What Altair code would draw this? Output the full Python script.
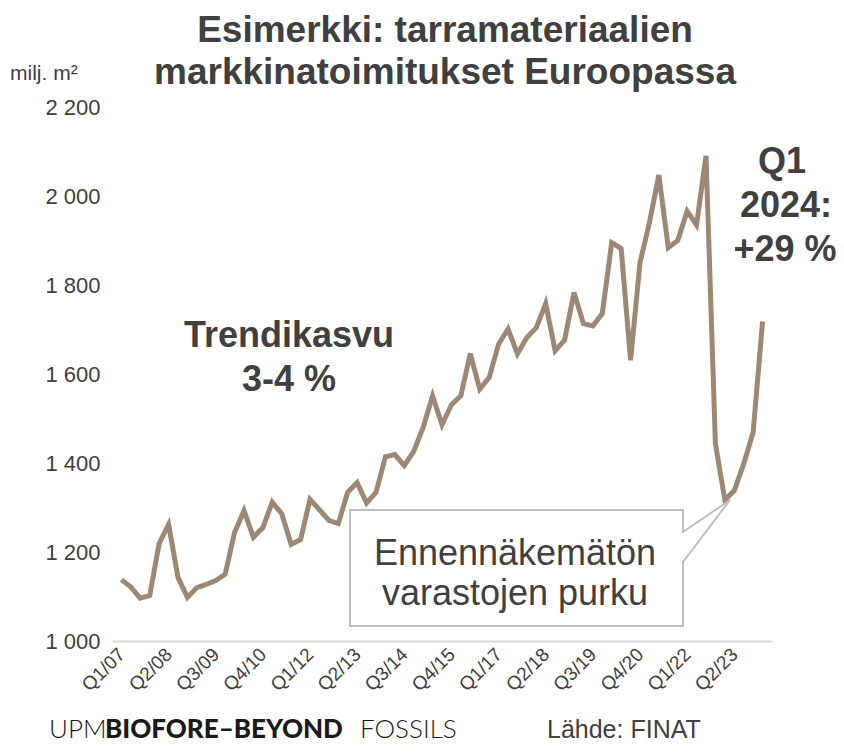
import altair as alt
import pandas as pd

# Quarterly market deliveries of label materials in Europe, million m2 (Q1/07 .. Q1/24)
years = list(range(2007, 2025))
quarters = [f"Q{q}/{str(y)[2:]}" for y in years for q in (1, 2, 3, 4)][:69]
values = [1138, 1121, 1096, 1102, 1219, 1262, 1143, 1098, 1120, 1127,
          1136, 1150, 1244, 1293, 1233, 1255, 1312, 1286, 1217, 1228,
          1318, 1295, 1271, 1264, 1334, 1356, 1310, 1334, 1414, 1419,
          1394, 1426, 1480, 1551, 1486, 1531, 1551, 1646, 1566, 1592,
          1667, 1701, 1645, 1682, 1704, 1758, 1652, 1676, 1783, 1713,
          1708, 1736, 1895, 1882, 1631, 1850, 1940, 2047, 1884, 1900,
          1966, 1935, 2090, 1443, 1317, 1338, 1398, 1469, 1718]
tick_labels = ["Q1/07", "Q2/08", "Q3/09", "Q4/10", "Q1/12", "Q2/13", "Q3/14",
               "Q4/15", "Q1/17", "Q2/18", "Q3/19", "Q4/20", "Q1/22", "Q2/23"]
y_ticks = [1000, 1200, 1400, 1600, 1800, 2000, 2200]

title_lines = ["Esimerkki: tarramateriaalien", "markkinatoimitukset Euroopassa"]
unit_label = "milj. m²"
trend_lines = ["Trendikasvu", "3-4 %"]
q1_lines = ["Q1", "2024:", "+29 %"]
callout_lines = ["Ennennäkemätön", "varastojen purku"]
source_text = "Lähde: FINAT"
logo_parts = ["UPM", "BIOFORE–BEYOND", "FOSSILS"]

df = pd.DataFrame({"q": quarters, "v": values})

TXT = "#404040"
FONT = "Liberation Sans"
W, H = 660, 534

line = alt.Chart(df).mark_line(color="#9c8875", strokeWidth=5).encode(
    x=alt.X("q:O", sort=None, title=None,
            scale=alt.Scale(type="point", padding=1.1),
            axis=alt.Axis(values=tick_labels, labelAngle=-45, labelAlign="right",
                          labelBaseline="middle", labelFontSize=19, labelColor=TXT,
                          labelFont=FONT, ticks=False, labelPadding=10,
                          domainColor="#d9d9d9", domainWidth=2, grid=False)),
    y=alt.Y("v:Q", title=None,
            scale=alt.Scale(domain=[1000, 2200], nice=False, zero=False),
            axis=alt.Axis(values=y_ticks, labelExpr="replace(format(datum.value, ','), ',', ' ')",
                          labelFontSize=22, labelColor=TXT, labelFont=FONT,
                          ticks=False, domain=False, grid=False, labelPadding=12)),
)


def txt(s, x, y, size, weight="normal", align="center", color=TXT, font=FONT):
    return alt.Chart(pd.DataFrame({"t": [s]})).mark_text(
        fontSize=size, fontWeight=weight, align=align, baseline="alphabetic",
        color=color, font=font
    ).encode(text="t:N", x=alt.value(x), y=alt.value(y))


one = pd.DataFrame({"a": [0]})
box = alt.Chart(one).mark_rect(fill="white", stroke="#bfbfbf", strokeWidth=2).encode(
    x=alt.value(238), x2=alt.value(571), y=alt.value(403), y2=alt.value(519))
gap = alt.Chart(one).mark_rule(stroke="white", strokeWidth=4).encode(
    x=alt.value(571), y=alt.value(426), y2=alt.value(454))
ptr1 = alt.Chart(one).mark_rule(stroke="#bfbfbf", strokeWidth=2).encode(
    x=alt.value(571), y=alt.value(425), x2=alt.value(618), y2=alt.value(393))
ptr2 = alt.Chart(one).mark_rule(stroke="#bfbfbf", strokeWidth=2).encode(
    x=alt.value(618), y=alt.value(393), x2=alt.value(571), y2=alt.value(455))

layers = [line, box, gap, ptr1, ptr2,
          txt(title_lines[0], 333, -65, 37, "bold"),
          txt(title_lines[1], 333, -23, 37, "bold"),
          txt(unit_label, -102, -27, 21, align="left"),
          txt(trend_lines[0], 177, 240, 36, "bold"),
          txt(trend_lines[1], 177, 284, 36, "bold"),
          txt(q1_lines[0], 670, 66, 36, "bold"),
          txt(q1_lines[1], 674, 110, 36, "bold"),
          txt(q1_lines[2], 673, 154, 36, "bold"),
          txt(callout_lines[0], 403, 458, 36),
          txt(callout_lines[1], 403, 498, 36),
          txt(source_text, 435, 631, 25, align="left"),
          txt(logo_parts[0], -63, 631, 26, 300, "left", "#1a1a1a", "Lato"),
          txt(logo_parts[1], -7, 631, 26, 900, "left", "#1a1a1a", "Lato"),
          txt(logo_parts[2], 248, 631, 26, 300, "left", "#1a1a1a", "Lato"),
          ]

chart = alt.layer(*layers).properties(
    width=W, height=H,
    autosize=alt.AutoSizeParams(type="none"),
    padding={"left": 104, "top": 99, "right": 64, "bottom": 104},
    background="white",
).configure_view(stroke=None)

chart.save("out.html", embed_options={"renderer": "svg", "actions": False})
